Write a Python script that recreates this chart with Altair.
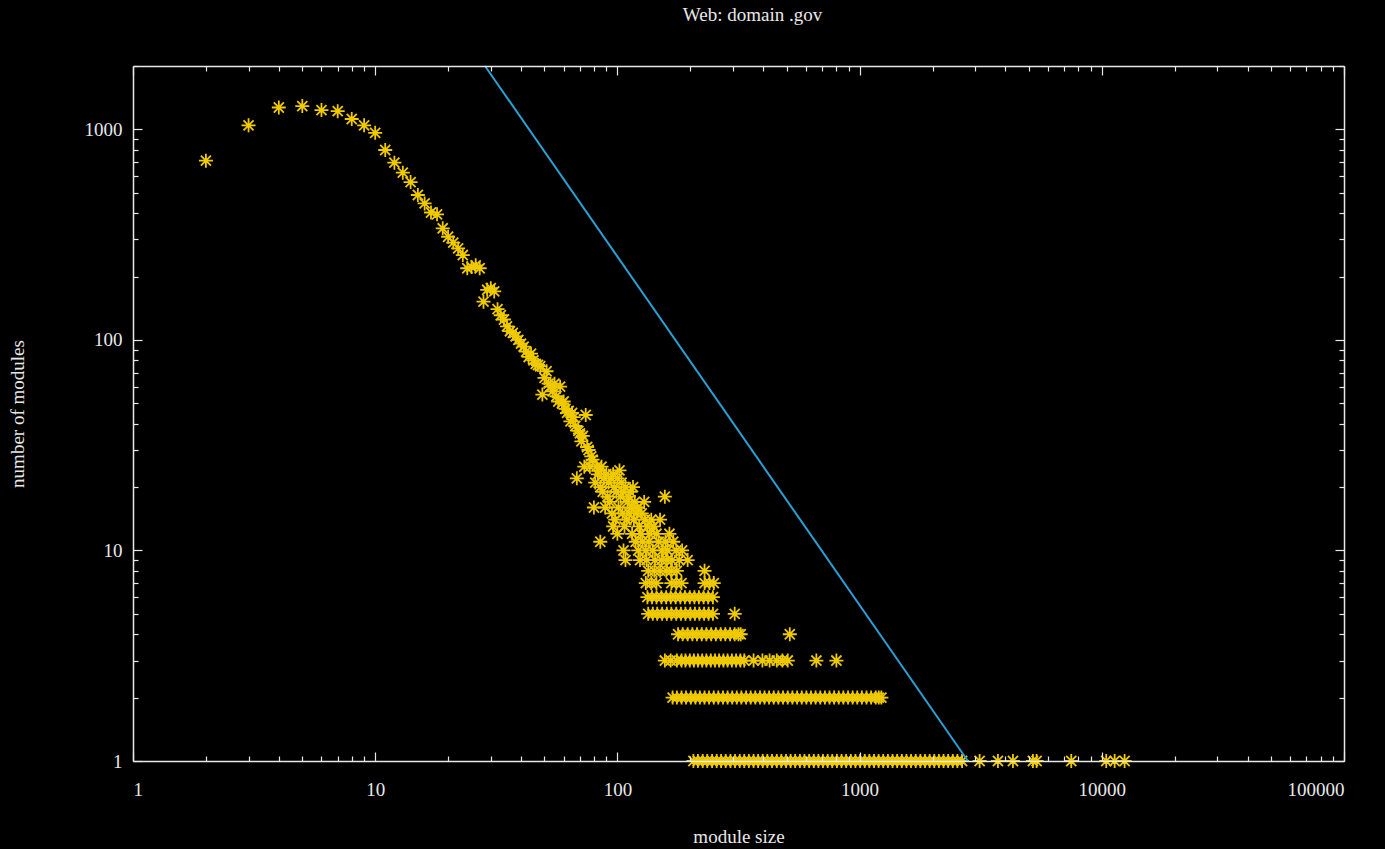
import altair as alt
import pandas as pd

TITLE = "Web: domain .gov"
X_TITLE = "module size"
Y_TITLE = "number of modules"

# --- head of the distribution: one count per module size ---
head_sizes = [2, 3, 4, 5, 6, 7, 8, 9, 10, 11, 12, 13, 14, 15, 16, 17, 18, 19, 20, 21, 22, 23]
head_counts = [710, 1045, 1270, 1290, 1235, 1220, 1120, 1045, 963, 798, 695, 623, 562, 488, 445, 403, 395, 339, 309, 290, 272, 253]

# --- middle part ---
mid_sizes = [24, 25, 26, 27, 28, 29, 30, 31, 32, 33, 34, 35, 36, 37, 38, 39, 40, 41, 42, 43,
             44, 45, 46, 47, 48, 49, 50, 51, 52, 53, 54, 55, 56, 57, 58, 59, 60, 61, 62, 63,
             64, 65, 66, 67, 68, 69, 70, 71, 72, 73, 74, 75, 76, 77, 78, 79]
mid_counts = [219, 222, 226, 219, 152, 173, 176, 170, 140, 131, 125, 116, 110, 108, 104, 100, 96, 93, 88, 83,
              86, 80, 77, 76, 75, 55, 66, 71, 62, 60, 57, 62, 54, 51, 60, 50, 51, 47, 45, 46,
              41, 45, 43, 39, 22, 37, 36, 33, 35, 25, 44, 31, 30, 25, 28, 27]

# --- scattered cloud (counts 7..25) ---
cloud_sizes = [82, 86, 84, 102, 83, 90, 96, 88, 94, 100, 81, 92, 104,
               85, 97, 108, 116, 87, 99, 106, 113, 91, 103, 111, 157,
               93, 110, 118, 129, 80, 89, 101, 114, 121, 95, 105, 112, 120, 126,
               98, 109, 117, 130, 138, 150, 96, 107, 123, 133, 141,
               100, 115, 125, 136, 145, 164, 85, 119, 127, 135, 148, 158, 170,
               106, 122, 131, 140, 153, 161, 175, 185,
               108, 124, 132, 143, 152, 160, 168, 180, 195,
               134, 142, 150, 159, 167, 176, 229,
               131, 138, 145, 167, 175, 184, 229, 240, 250]
cloud_counts = [25, 25, 24, 24, 23, 23, 23, 22, 22, 22, 21, 21, 21,
                20, 20, 20, 20, 19, 19, 19, 19, 18, 18, 18, 18,
                17, 17, 17, 17, 16, 16, 16, 16, 16, 15, 15, 15, 15, 15,
                14, 14, 14, 14, 14, 14, 13, 13, 13, 13, 13,
                12, 12, 12, 12, 12, 12, 11, 11, 11, 11, 11, 11, 11,
                10, 10, 10, 10, 10, 10, 10, 10,
                9, 9, 9, 9, 9, 9, 9, 9, 9,
                8, 8, 8, 8, 8, 8, 8,
                7, 7, 7, 7, 7, 7, 7, 7, 7]

# --- horizontal bands of small counts ---
sizes_count6 = [133, 139, 145, 152, 159, 166, 174, 182, 190, 199, 208, 217, 227, 237, 248]
sizes_count5 = [134, 140, 146, 153, 160, 167, 175, 183, 191, 200, 209, 218, 228, 238, 248, 305]
sizes_count4 = [178, 186, 195, 204, 213, 223, 233, 244, 255, 267, 279, 292, 305, 316, 323, 515]
sizes_count3 = [157, 166, 176, 184, 191, 199, 207, 215, 224, 233, 243, 253, 263, 274, 285, 297,
                309, 322, 334, 365, 397, 425, 455, 480, 505, 663, 802]
sizes_count2 = [169, 176, 184, 192, 201, 210, 219, 229, 239, 250, 261, 273, 285, 298, 311, 325,
                340, 355, 371, 388, 405, 423, 442, 462, 483, 505, 528, 552, 577, 603, 630, 658,
                688, 719, 751, 785, 820, 857, 896, 936, 978, 1022, 1068, 1116, 1166, 1200, 1230]
sizes_count1 = [206, 215, 225, 235, 246, 257, 268, 280, 293, 306, 320, 334, 349, 365, 381, 398,
                416, 435, 455, 475, 497, 519, 542, 567, 592, 619, 647, 676, 706, 738, 771, 806,
                842, 880, 920, 961, 1005, 1050, 1097, 1147, 1198, 1252, 1309, 1368, 1429, 1494,
                1561, 1631, 1705, 1782, 1862, 1946, 2034, 2125, 2221, 2321, 2425, 2534, 2650,
                3130, 3725, 4297, 5195, 5380, 7480, 10430, 11300, 12420]

# --- reference power-law line (end points) ---
line_sizes = [28.4, 2800]
line_counts = [2000, 1]

# --- axis ticks / labels ---
x_label_values = [1, 10, 100, 1000, 10000, 100000]
y_label_values = [1, 10, 100, 1000]
x_tick_values = [m * 10 ** k for k in range(5) for m in range(1, 10)] + [100000]
y_tick_values = [m * 10 ** k for k in range(3) for m in range(1, 10)] + [1000, 2000]

rows = []
for s, c in zip(head_sizes, head_counts):
    rows.append((s, c))
for s, c in zip(mid_sizes, mid_counts):
    rows.append((s, c))
for s, c in zip(cloud_sizes, cloud_counts):
    rows.append((s, c))
for n, lst in [(6, sizes_count6), (5, sizes_count5), (4, sizes_count4),
               (3, sizes_count3), (2, sizes_count2), (1, sizes_count1)]:
    for s in lst:
        rows.append((s, n))
points = pd.DataFrame(rows, columns=["size", "count"])
line = pd.DataFrame({"size": line_sizes, "count": line_counts})

W, H = 1211, 695
FONT = "Liberation Serif"
FG = "#e8e8e8"
major = "abs(log(datum.value)/LN10 - round(log(datum.value)/LN10)) < 0.001"
tick_size = {"condition": {"test": major, "value": 9}, "value": 5}

xs = alt.Scale(type="log", domain=[1, 100000], nice=False)
ys = alt.Scale(type="log", domain=[1, 2000], nice=False)

STAR = "M-1,0L1,0M0,-1L0,1M-0.72,-0.72L0.72,0.72M-0.72,0.72L0.72,-0.72"

pts = alt.Chart(points).mark_point(
    shape=STAR, size=196, filled=False, strokeWidth=1.8, color="#efca00", opacity=1
).encode(
    x=alt.X("size:Q", scale=xs, axis=alt.Axis(
        orient="bottom", values=x_label_values, format="d", ticks=False, tickSize=0,
        domain=True, domainColor=FG, domainWidth=1.5, labelPadding=19, grid=False,
        title=X_TITLE, titlePadding=28, zindex=1)),
    y=alt.Y("count:Q", scale=ys, axis=alt.Axis(
        orient="left", values=y_label_values, format="d", ticks=False, tickSize=0,
        domain=True, domainColor=FG, domainWidth=1.5, labelPadding=11, grid=False,
        title=Y_TITLE, titlePadding=57, zindex=1)),
)

fit = alt.Chart(line).mark_line(color="#2c9fd4", strokeWidth=2).encode(
    x=alt.X("size:Q", scale=xs, axis=alt.Axis(
        orient="top", offset=-H, values=x_tick_values, labels=False, domain=False,
        tickSize=tick_size, tickColor=FG, tickWidth=1.2, title=None, grid=False, zindex=1)),
    y=alt.Y("count:Q", scale=ys, axis=alt.Axis(
        orient="right", offset=-W, values=y_tick_values, labels=False, domain=False,
        tickSize=tick_size, tickColor=FG, tickWidth=1.2, title=None, grid=False, zindex=1)),
)

ghost = alt.Chart(line).mark_line(opacity=0).encode(
    x=alt.X("size:Q", scale=xs, axis=alt.Axis(
        orient="bottom", offset=-H, values=x_tick_values, labels=False, domain=True,
        domainColor=FG, domainWidth=1.5,
        tickSize=tick_size, tickColor=FG, tickWidth=1.2, title=None, grid=False, zindex=1)),
    y=alt.Y("count:Q", scale=ys, axis=alt.Axis(
        orient="left", offset=-W, values=y_tick_values, labels=False, domain=True,
        domainColor=FG, domainWidth=1.5,
        tickSize=tick_size, tickColor=FG, tickWidth=1.2, title=None, grid=False, zindex=1)),
)

chart = alt.layer(pts, fit, ghost).resolve_axis(x="independent", y="independent").properties(
    width=W, height=H,
    title=alt.Title(TITLE, font=FONT, fontSize=19, fontWeight="normal", color=FG, offset=37, dx=14),
    autosize=alt.AutoSizeParams(type="none"),
    padding={"left": 133, "top": 66, "right": 41, "bottom": 88},
    background="black",
).configure_view(
    stroke=None, fill="black"
).configure_axis(
    labelFont=FONT, labelFontSize=19, labelColor=FG,
    titleFont=FONT, titleFontSize=19, titleFontWeight="normal", titleColor=FG,
)

chart.save("out.html", embed_options={"renderer": "svg", "actions": False})
